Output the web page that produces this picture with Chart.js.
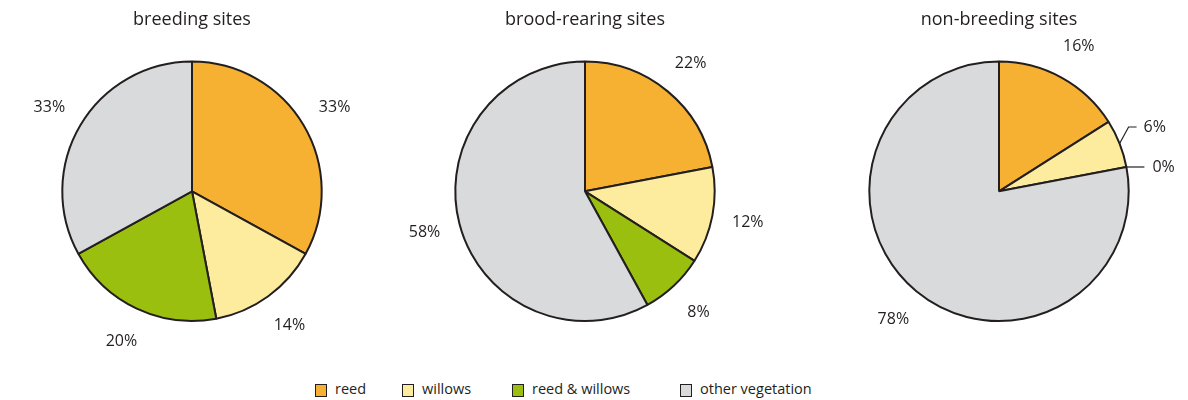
<!DOCTYPE html>
<html lang="en">
<head>
  <meta charset="UTF-8">
  <title>Vegetation at sites</title>
  <script src="https://cdn.jsdelivr.net/npm/chart.js"></script>
  <style>
    body {
      margin: 0;
      background: #ffffff;
      font-family: 'Open Sans', sans-serif;
      color: #231f20;
    }
    #page {
      position: relative;
      width: 1188px;
      height: 400px;
      overflow: hidden;
    }
    .pie {
      position: absolute;
      top: 0;
    }
    .key {
      position: absolute;
      top: 379px;
      display: flex;
      align-items: center;
      font-size: 14.5px;
      white-space: nowrap;
    }
    .key span.box {
      display: inline-block;
      width: 10px;
      height: 11px;
      border: 1.5px solid #231f20;
      margin-right: 8px;
      margin-top: 3px;
    }
  </style>
</head>
<body>
  <div id="page">
    <canvas class="pie" id="pie0" width="380" height="365" style="left:2px"></canvas>
    <canvas class="pie" id="pie1" width="380" height="365" style="left:395px"></canvas>
    <canvas class="pie" id="pie2" width="380" height="365" style="left:809px"></canvas>
  </div>

  <script>
    const categories = ['reed', 'willows', 'reed & willows', 'other vegetation'];
    const colors = ['#f6b133', '#fdec9d', '#9abf0e', '#d9dadb'];

    const titles = ['breeding sites', 'brood-rearing sites', 'non-breeding sites'];
    const breeding = [33, 14, 20, 33];
    const broodRearing = [22, 12, 8, 58];
    const nonBreeding = [16, 6, 0, 78];

    const legendX = [315, 402, 512, 680];
    const ink = '#231f20';

    // percentage labels outside each slice; tiny slices get a leader line
    const sliceLabels = {
      id: 'sliceLabels',
      afterDatasetsDraw(chart) {
        const ctx = chart.ctx;
        const meta = chart.getDatasetMeta(0);
        const values = chart.data.datasets[0].data;
        ctx.save();
        ctx.font = '16px "Open Sans"';
        ctx.fillStyle = ink;
        ctx.strokeStyle = ink;
        ctx.lineWidth = 1.2;
        ctx.textBaseline = 'middle';
        let nextY = Infinity;
        for (let i = meta.data.length - 1; i >= 0; i--) {
          const p = meta.data[i].getProps(['x', 'y', 'startAngle', 'endAngle', 'outerRadius'], true);
          const v = values[i];
          const mid = (p.startAngle + p.endAngle) / 2;
          const cos = Math.cos(mid), sin = Math.sin(mid);
          if (v < 7) {
            const ex = p.x + cos * p.outerRadius;
            const ey = p.y + sin * p.outerRadius;
            const ly = Math.min(ey, nextY - 40);
            ctx.beginPath();
            ctx.moveTo(ex, ey);
            let tx;
            if (ey - ly < 2) {
              ctx.lineTo(ex + 18, ly);
              tx = ex + 26;
            } else {
              ctx.lineTo(ex + 9, ly);
              ctx.lineTo(ex + 17, ly);
              tx = ex + 24;
            }
            ctx.stroke();
            ctx.textAlign = 'left';
            ctx.fillText(v + '%', tx, ly);
            nextY = ly;
          } else {
            const r = p.outerRadius + 36;
            ctx.textAlign = 'center';
            ctx.fillText(v + '%', p.x + cos * r, p.y + sin * r);
          }
        }
        ctx.restore();
      }
    };

    function drawPie(id, title, values) {
      return new Chart(document.getElementById(id), {
        type: 'pie',
        data: {
          labels: categories,
          datasets: [{
            data: values,
            backgroundColor: colors,
            borderColor: ink,
            borderWidth: 2
          }]
        },
        options: {
          responsive: false,
          animation: false,
          layout: { padding: { bottom: 43 } },
          plugins: {
            title: {
              display: true,
              text: title,
              color: ink,
              font: { family: 'Open Sans', size: 18, weight: 'normal' },
              padding: { top: 9, bottom: 30 }
            },
            legend: { display: false },
            tooltip: { enabled: false }
          }
        },
        plugins: [sliceLabels]
      });
    }

    drawPie('pie0', titles[0], breeding);
    drawPie('pie1', titles[1], broodRearing);
    drawPie('pie2', titles[2], nonBreeding);

    // shared key below the three pies
    const page = document.getElementById('page');
    categories.forEach((name, i) => {
      const item = document.createElement('div');
      item.className = 'key';
      item.style.left = legendX[i] + 'px';
      item.innerHTML = '<span class="box" style="background:' + colors[i] + '"></span>' + name;
      page.appendChild(item);
    });
  </script>
</body>
</html>
